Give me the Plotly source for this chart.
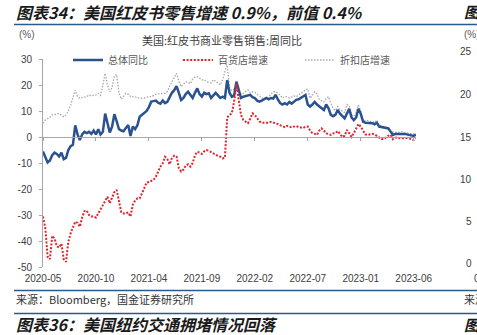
import pandas as pd
import plotly.graph_objects as go

# ---------------- data ----------------
start_date = "2020-05-16"
n_weeks = 163
dates = pd.date_range(start=start_date, periods=n_weeks, freq="7D")

total_yoy = [
    -5.6, -7.5, -9.8, -9.0, -7.0, -6.0, -6.5, -7.5, -6.0, -8.5,
    -8.0, -5.0, -3.5, -3.0, 4.5, 1.0, -1.2, 1.0, 2.0, 1.5,
    2.0, 1.2, 2.5, 1.0, 3.0, 1.0, 2.0, 9.0, 5.0, 1.7,
    4.0, 8.8, 6.0, 3.0, 2.5, 2.2, 3.5, 4.6, 0.4, 4.0,
    3.0, 4.5, 7.8, 8.5, 9.5, 10.0, 11.5, 13.6, 13.8, 14.0,
    13.2, 12.8, 14.0, 13.0, 13.5, 15.5, 17.0, 18.0, 19.6, 17.0,
    14.2, 15.0, 16.5, 17.4, 16.0, 15.0, 17.0, 18.7, 16.5, 15.5,
    17.0, 16.5, 16.8, 15.0, 16.0, 17.0, 16.0, 15.0, 15.5, 15.0,
    21.9, 17.0, 15.5, 16.0, 21.3, 18.0, 15.0, 15.5, 15.8, 16.2,
    16.2, 15.3, 15.0, 14.0, 13.6, 14.0, 14.5, 15.0, 14.5, 15.0,
    14.8, 16.2, 14.5, 13.0, 12.5, 13.0, 12.5, 13.5, 12.8, 13.5,
    14.3, 14.5, 15.0, 15.5, 16.2, 12.5, 11.7, 12.5, 13.5, 12.5,
    11.7, 11.0, 10.4, 12.5, 11.0, 8.5, 8.0, 8.5, 10.4, 9.0,
    8.0, 7.2, 9.0, 10.8, 7.5, 6.5, 7.5, 10.8, 9.0, 5.9,
    5.5, 5.5, 5.3, 5.3, 4.9, 5.5, 4.0, 3.8, 3.6, 3.5,
    3.3, 2.0, 0.8, 1.2, 1.2, 1.4, 1.4, 1.2, 1.0, 0.8,
    0.5, 0.4, 0.9,
]

dept_store = [
    -30.6, -35.0, -46.0, -47.0, -38.0, -39.0, -42.0, -42.5, -41.0, -47.0,
    -48.0, -40.3, -37.0, -35.0, -32.6, -33.0, -34.5, -31.0, -28.5, -28.3,
    -30.0, -30.6, -30.5, -31.0, -29.4, -28.0, -26.0, -24.2, -23.0, -25.5,
    -23.5, -21.2, -20.4, -24.5, -29.0, -29.4, -29.4, -29.0, -30.6, -26.0,
    -24.5, -23.6, -23.6, -21.7, -19.5, -17.5, -17.3, -17.0, -16.5, -15.3,
    -13.3, -11.4, -10.1, -7.6, -8.5, -10.5, -8.0, -7.2, -7.5, -12.0,
    -13.3, -12.5, -11.0, -10.5, -11.4, -10.0, -7.0, -5.7, -6.0, -6.5,
    -5.5, -5.0, -5.3, -5.8, -6.5, -7.0, -7.3, -7.6, -8.2, -8.0,
    7.5, 8.5, 9.1, 13.6, 20.6, 14.2, 8.5, 6.5, 6.0, 5.3,
    7.0, 9.1, 8.5, 7.0, 6.0, 5.5, 5.5, 5.5, 5.5, 5.8,
    5.5, 5.5, 5.0, 4.5, 4.2, 3.8, 4.3, 4.0, 3.7, 4.0,
    4.2, 3.8, 3.5, 3.5, 4.0, 4.0, 2.5, 1.5, 1.2, 0.8,
    2.5, 3.3, 2.5, 1.4, 1.2, 0.8, 1.4, 1.5, 2.3, 1.2,
    0.0, 0.5, 2.7, 1.5, 0.0, 1.5, 3.0, 5.0, 4.0, 2.5,
    1.0, 0.8, 0.9, 1.2, 1.0, 0.5, -0.3, -0.8, -0.8, 0.0,
    0.5, 0.8, -0.9, -0.3, -0.2, -0.5, -0.4, -0.3, -0.4, -0.5,
    -0.8, -1.2, -0.2,
]

discount_store = [
    5.3, 6.5, 7.0, 7.5, 8.5, 8.5, 9.0, 9.0, 8.5, 7.8,
    8.5, 10.0, 12.3, 15.0, 18.0, 15.5, 14.9, 15.2, 15.5, 15.5,
    16.2, 15.8, 16.0, 16.2, 16.8, 16.0, 20.0, 24.5, 20.0, 17.4,
    19.0, 23.5, 24.0, 17.0, 14.5, 15.5, 16.8, 16.5, 15.5, 15.5,
    15.5, 15.0, 14.9, 14.9, 15.0, 15.3, 15.5, 15.5, 16.0, 16.4,
    16.6, 16.8, 16.8, 16.8, 17.5, 19.5, 21.3, 22.5, 24.5, 21.5,
    19.4, 20.2, 21.2, 21.0, 20.5, 22.3, 23.0, 23.2, 22.5, 22.0,
    22.0, 21.3, 21.0, 20.8, 22.0, 21.5, 20.8, 20.0, 22.0, 25.1,
    27.7, 19.0, 17.8, 18.5, 20.0, 17.5, 16.5, 16.8, 17.5, 18.1,
    17.0, 17.4, 17.2, 16.5, 15.5, 15.0, 14.9, 14.6, 15.5, 16.5,
    17.4, 17.4, 17.0, 16.0, 15.0, 15.5, 15.5, 15.0, 15.3, 15.8,
    15.5, 16.2, 17.0, 17.6, 18.1, 18.5, 14.9, 16.0, 17.4, 16.5,
    14.5, 14.0, 13.5, 14.9, 15.5, 13.0, 11.0, 10.2, 11.7, 10.5,
    10.0, 9.5, 12.5, 12.0, 8.5, 8.0, 9.5, 12.3, 10.0, 6.0,
    6.3, 6.3, 6.0, 6.0, 5.5, 6.5, 4.5, 4.2, 4.0, 3.8,
    3.5, 2.0, 1.8, 1.8, 1.7, 1.8, 2.0, 1.7, 1.6, 1.3,
    1.2, 1.2, 1.3,
]

series_names = ["总体同比", "百货店增速", "折扣店增速"]
y_ticks = [30, 20, 10, 0, -10, -20, -30, -40, -50]
x_tick_step = 23
right_axis_labels = ["25", "20", "15", "10", "5", "0"]

title_text = "图表34：美国红皮书零售增速 0.9%，前值 0.4%"
chart_title = "美国:红皮书商业零售销售:周同比"
unit_text = "(%)"
source_text = "来源：Bloomberg，国金证券研究所"
next_title = "图表36：美国纽约交通拥堵情况回落"

# ---------------- layout helpers ----------------
W, H = 477, 335
L, R, T, B = 43, 416, 59, 267


def px(x):
    return (x - L) / (R - L)


def py(y):
    return (B - y) / (B - T)


CJK = "Noto Sans CJK SC"
LAT = "Liberation Sans, Arial"
TXT = "#404040"

fig = go.Figure()

fig.add_trace(go.Scatter(
    x=dates, y=discount_store, name=series_names[2], mode="lines",
    line=dict(color="#A8A8A8", width=1.3, dash="1.5px,1.5px"),
    legend="legend3",
))
fig.add_trace(go.Scatter(
    x=dates, y=total_yoy, name=series_names[0], mode="lines",
    line=dict(color="#2A5290", width=2.5),
    legend="legend",
))
fig.add_trace(go.Scatter(
    x=dates, y=dept_store, name=series_names[1], mode="lines",
    line=dict(color="#E0242A", width=2, dash="2px,1.6px"),
    legend="legend2",
))
# invisible trace to carry the zero-line axis with ticks
fig.add_trace(go.Scatter(
    x=[dates[0], dates[-1]], y=[None, None], xaxis="x2", yaxis="y",
    mode="lines", showlegend=False, hoverinfo="skip",
))

tickvals = list(dates[::x_tick_step])

fig.update_layout(
    width=W, height=H,
    margin=dict(l=L, r=W - R, t=T, b=H - B),
    paper_bgcolor="white", plot_bgcolor="white",
    font=dict(family=LAT, size=10, color=TXT),
    xaxis=dict(
        type="date", range=[dates[0], dates[-1]],
        tickvals=tickvals, tickformat="%Y-%m",
        showgrid=False, zeroline=False, showline=False, ticks="",
        tickfont=dict(family=LAT, size=10, color=TXT),
        ticklabelstandoff=4,
    ),
    xaxis2=dict(
        type="date", range=[dates[0], dates[-1]], matches="x",
        overlaying="x", anchor="free", position=(0 - y_ticks[-1]) / (y_ticks[0] - y_ticks[-1]),
        tickvals=tickvals, showticklabels=False,
        showgrid=False, zeroline=False, showline=True,
        linecolor="#A6A6A6", linewidth=1, ticks="outside", ticklen=3,
        tickcolor="#A6A6A6",
    ),
    yaxis=dict(
        range=[y_ticks[-1], y_ticks[0]],
        tickvals=y_ticks, ticktext=[str(v) for v in y_ticks],
        showgrid=False, zeroline=False, showline=True,
        linecolor="#A6A6A6", linewidth=1, ticks="outside", ticklen=3,
        tickcolor="#A6A6A6",
        tickfont=dict(family=LAT, size=10, color=TXT),
        ticklabelstandoff=5,
    ),
    legend=dict(x=px(68), y=py(60), xanchor="left", yanchor="middle",
                orientation="h", bgcolor="rgba(0,0,0,0)",
                font=dict(family=CJK, size=10, color="#595959")),
    legend2=dict(x=px(178), y=py(60), xanchor="left", yanchor="middle",
                 orientation="h", bgcolor="rgba(0,0,0,0)",
                 font=dict(family=CJK, size=10, color="#595959")),
    legend3=dict(x=px(300), y=py(60), xanchor="left", yanchor="middle",
                 orientation="h", bgcolor="rgba(0,0,0,0)",
                 font=dict(family=CJK, size=10, color="#595959")),
    showlegend=True,
)

ann = []


def add_text(x, y, text, size=10, color=TXT, family=CJK, xanchor="left",
             bold=False, italic=False):
    ann.append(dict(
        x=px(x), y=py(y), xref="paper", yref="paper", text=text,
        showarrow=False, xanchor=xanchor, yanchor="middle",
        font=dict(family=family, size=size, color=color,
                  weight="bold" if bold else "normal",
                  style="italic" if italic else "normal"),
    ))


add_text(14, 12, title_text, size=16, color="#1A1A1A", bold=True, italic=True)
add_text(462, 12, "图", size=15, color="#1A1A1A", bold=True, italic=True)
add_text(17, 35, unit_text, size=10, color="#595959", family=LAT)
add_text(222, 40, chart_title, size=11, color="#404040", xanchor="center")
add_text(14, 299, source_text, size=11, color="#333333")
add_text(462, 299, "来源", size=11, color="#333333")
add_text(14, 324, next_title, size=16, color="#1A1A1A", bold=True, italic=True)
add_text(462, 324, "图", size=15, color="#1A1A1A", bold=True, italic=True)
add_text(462, 35, unit_text, size=10, color="#595959", family=LAT)
for lab, yy in zip(right_axis_labels, [52, 94, 137, 179, 221, 263]):
    add_text(474, yy, lab, size=10, color=TXT, family=LAT, xanchor="right")
add_text(472, 278, "0", size=10, color=TXT, family=LAT)

fig.update_layout(annotations=ann)

shapes = []
for yy in [24.5, 290.5, 313.5]:
    shapes.append(dict(type="line", xref="paper", yref="paper",
                       x0=px(14), x1=px(477), y0=py(yy), y1=py(yy),
                       line=dict(color="#2B5A86", width=1.5)))
fig.update_layout(shapes=shapes)

fig.write_html("out.html")
